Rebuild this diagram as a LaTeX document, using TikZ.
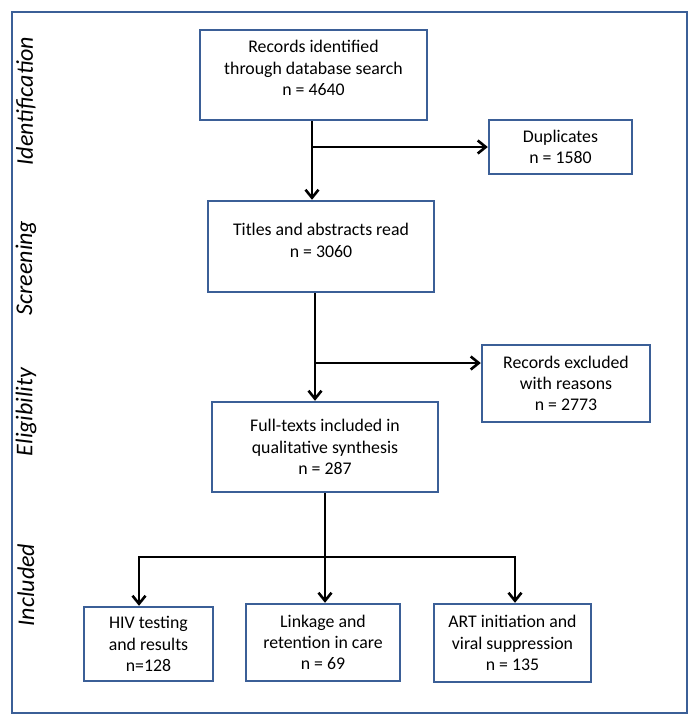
\documentclass[tikz,border=0pt]{standalone}
\usepackage{fontspec}
\setmainfont{Carlito}
\usetikzlibrary{arrows.meta}
\definecolor{boxblue}{HTML}{3B5F97}
\begin{document}
\begin{tikzpicture}[x=1pt,y=-1pt,
  box/.style={draw=boxblue,line width=2.4pt,fill=white,inner sep=0pt},
  txt/.style={align=center,font=\fontsize{17.8}{21.3}\selectfont,inner sep=0pt},
  side/.style={rotate=90,font=\fontsize{24}{28}\selectfont\itshape,inner sep=0pt},
  arr/.style={line width=2.6pt,-{Straight Barb[length=8pt,width=13pt,line width=2.6pt]}}]
\useasboundingbox (0,0) rectangle (700,726);
\node[box,fill=none,minimum width=675pt,minimum height=701pt] (frame) at (349.5,362.5) {};
% side labels
\node[side] (sid) at (26,101) {Identification};
\node[side] (sscr) at (26,268) {Screening};
\node[side] (selg) at (26,412) {Eligibility};
\node[side] (sinc) at (26,585) {Included};
% boxes
\node[box,minimum width=227pt,minimum height=90pt] (b1) at (313.5,75) {};
\node[txt] (b1t) at ([yshift=7pt]b1.center) {Records identified\\through database search\\n = 4640};
\node[box,txt,minimum width=143pt,minimum height=54pt] (dup) at (560.5,147) {Duplicates\\n = 1580};
\node[box,minimum width=226pt,minimum height=91pt] (b2) at (321,246.5) {};
\node[txt] (b2t) at ([yshift=6pt]b2.center) {Titles and abstracts read\\n = 3060};
\node[box,txt,minimum width=168pt,minimum height=77pt] (excl) at (566,383.5) {Records excluded\\with reasons\\n = 2773};
\node[box,txt,minimum width=226pt,minimum height=90pt] (b3) at (325,447) {Full-texts included in\\qualitative synthesis\\n = 287};
\node[box,txt,minimum width=129pt,minimum height=74pt] (hiv) at (148.5,644) {HIV testing\\and results\\n=128};
\node[box,txt,minimum width=154pt,minimum height=77pt] (link) at (323,642.5) {Linkage and\\retention in care\\n = 69};
\node[box,txt,minimum width=157pt,minimum height=78pt] (art) at (512.5,643) {ART initiation and\\viral suppression\\n = 135};
% connectors
\draw[arr] ([xshift=-1.5pt]b1.south) -- ([xshift=-1.5pt]b1.south |- b2.north);
\coordinate (j1) at ([xshift=-1.5pt]b1.south |- dup.west);
\draw[arr] (j1) -- (dup.west);
\draw[arr] ([xshift=-6pt]b2.south) -- ([xshift=-6pt]b2.south |- b3.north);
\coordinate (j2) at ([xshift=-6pt]b2.south |- 0,363);
\draw[arr] (j2) -- (j2 -| excl.west);
\draw[arr] (b3.south) -- (b3.south |- link.north);
\coordinate (j3) at (b3.south |- 0,557);
\draw[arr] (j3) -| ([xshift=-9.5pt]hiv.north);
\draw[arr] (j3) -| ([xshift=2.5pt]art.north);
\end{tikzpicture}
\end{document}
